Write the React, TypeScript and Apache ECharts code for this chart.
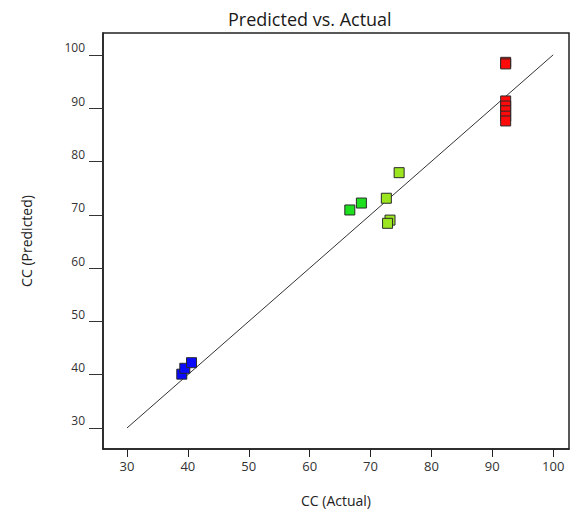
import React, { useEffect, useRef } from "react";
import * as echarts from "echarts";

// Axis ticks / labels
const tickValues = [30, 40, 50, 60, 70, 80, 90, 100];

// Reference line (predicted = actual)
const refLineX = [30, 100];
const refLineY = [30, 100];

// Runs grouped by response level (actual, predicted)
const blueActual = [39.0, 39.5, 40.6];
const bluePredicted = [40.1, 41.2, 42.25];

const greenActual = [66.6, 68.5];
const greenPredicted = [70.9, 72.2];

const limeActual = [72.6, 74.7, 73.2, 72.8];
const limePredicted = [73.1, 77.9, 69.0, 68.4];

const redActual = [92.2, 92.2, 92.2, 92.2, 92.2, 92.2, 92.2];
const redPredicted = [98.6, 98.3, 91.35, 90.4, 89.5, 88.5, 87.6];

const FONT = "'Open Sans', 'Noto Sans', sans-serif";

function pairs(xs: number[], ys: number[]) {
  return xs.map((x, i) => [x, ys[i]]);
}

function scatter(name: string, xs: number[], ys: number[], color: string) {
  return {
    name,
    type: "scatter",
    symbol: "rect",
    symbolSize: 10,
    data: pairs(xs, ys),
    itemStyle: { color, borderColor: "#2a2a2a", borderWidth: 1, opacity: 1 },
    z: 3,
  };
}

export default function App() {
  const ref = useRef<HTMLDivElement>(null);

  useEffect(() => {
    if (!ref.current) return;
    const chart = echarts.init(ref.current, null, { renderer: "svg" });
    chart.setOption({
      animation: false,
      backgroundColor: "#ffffff",
      title: {
        text: "Predicted vs. Actual",
        left: 223,
        top: 5,
        textStyle: { fontFamily: FONT, fontSize: 18, fontWeight: "normal", color: "#1a1a1a" },
      },
      grid: {
        left: 103,
        right: 1,
        top: 33,
        bottom: 65,
        show: true,
        borderColor: "#222",
        borderWidth: 1.5,
        backgroundColor: "transparent",
      },
      xAxis: {
        type: "value",
        min: 26.06,
        max: 102.6,
        name: "CC (Actual)",
        nameLocation: "middle",
        nameGap: 44,
        nameTextStyle: { fontFamily: FONT, fontSize: 14, color: "#222" },
        splitLine: { show: false },
        axisLine: { show: true, onZero: false, lineStyle: { color: "#222", width: 1.5 } },
        axisTick: {
          show: true,
          inside: false,
          length: 8,
          customValues: tickValues,
          lineStyle: { color: "#222", width: 1 },
        },
        axisLabel: {
          customValues: tickValues,
          fontFamily: FONT,
          fontSize: 13,
          color: "#333",
          margin: 10,
        },
      },
      yAxis: {
        type: "value",
        min: 26.06,
        max: 104.1,
        name: "CC (Predicted)",
        nameLocation: "middle",
        nameGap: 70,
        nameTextStyle: { fontFamily: FONT, fontSize: 14, color: "#222" },
        splitLine: { show: false },
        axisLine: { show: true, onZero: false, lineStyle: { color: "#222", width: 1.5 } },
        axisTick: {
          show: true,
          inside: false,
          length: 14,
          customValues: tickValues,
          lineStyle: { color: "#333", width: 1 },
        },
        axisLabel: {
          customValues: tickValues,
          fontFamily: FONT,
          fontSize: 12,
          color: "#333",
          margin: 18,
          verticalAlign: "bottom",
          lineHeight: 14,
        },
      },
      series: [
        {
          name: "reference",
          type: "line",
          data: pairs(refLineX, refLineY),
          symbol: "none",
          lineStyle: { color: "#333", width: 1 },
          z: 2,
        },
        scatter("low", blueActual, bluePredicted, "#0a0aff"),
        scatter("mid-low", greenActual, greenPredicted, "#1ee01e"),
        scatter("mid", limeActual, limePredicted, "#9be61e"),
        scatter("high", redActual, redPredicted, "#ff0a0a"),
      ],
    });
    return () => chart.dispose();
  }, []);

  return (
    <div
      ref={ref}
      style={{ position: "absolute", left: 0, top: 0, width: 570, height: 514 }}
    />
  );
}
